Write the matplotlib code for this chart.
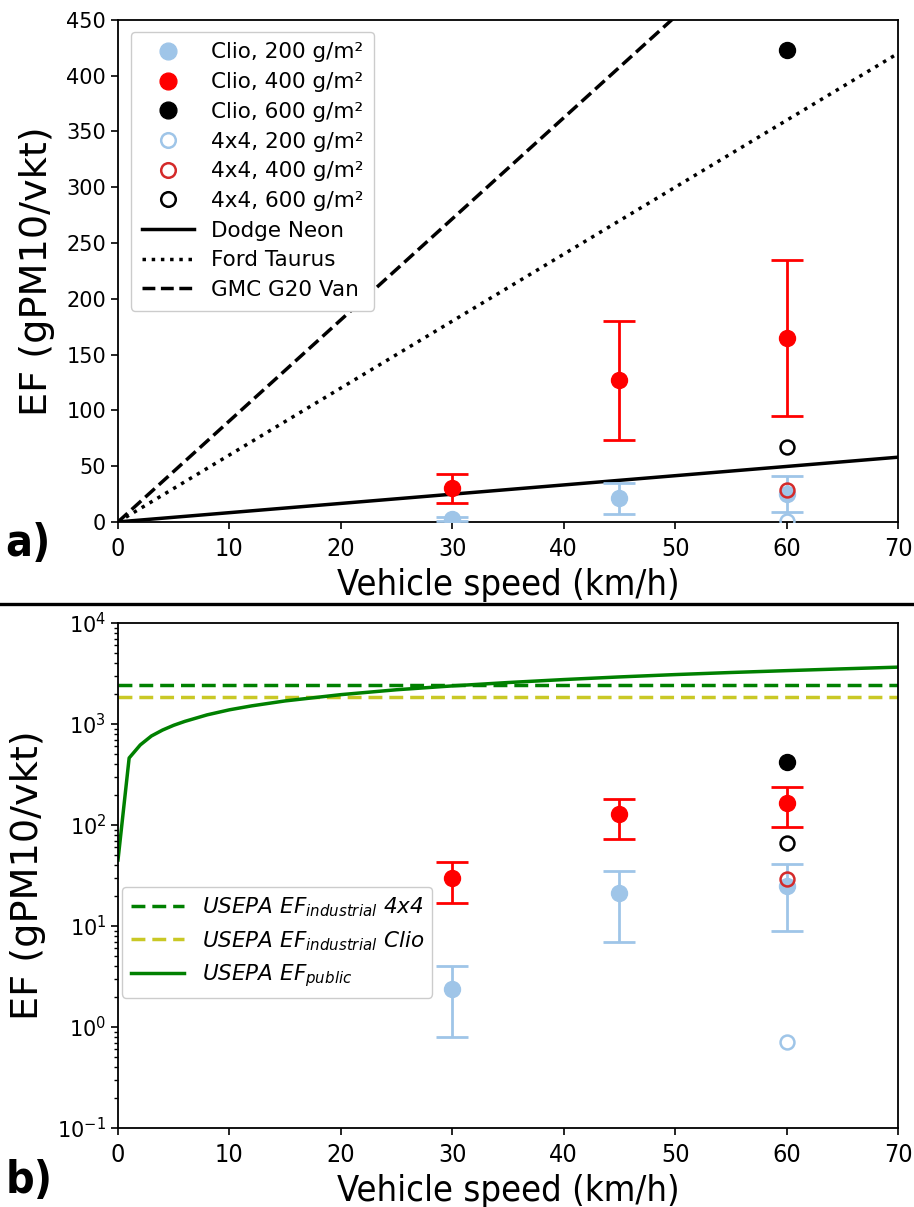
import matplotlib
matplotlib.use("Agg")
import matplotlib.pyplot as plt
from matplotlib.lines import Line2D
import numpy as np

# ---------------- data ----------------
speeds = [30, 45, 60]
clio200 = [2.4, 21, 25]
clio200_lo = [0.8, 7, 9]
clio200_hi = [4, 35, 41]
clio400 = [30, 127, 165]
clio400_lo = [17, 73, 95]
clio400_hi = [43, 180, 235]
clio600_x = [60]
clio600 = [423]
x4_x = [60]
x4_200 = [0.71]
x4_400 = [29]
x4_600 = [67]

line_speed = [0, 70]
dodge = [0, 58]
taurus = [0, 420]
gmc = [0, 634]

usepa_4x4 = 2450
usepa_clio = 1850
pub_speed = [0, 1, 2, 3, 4, 5, 6, 8, 10, 12, 15, 20, 25, 30, 35, 40, 45, 50, 55, 60, 65, 70]
pub_ef = [45, 460, 620, 760, 870, 970, 1060, 1230, 1380, 1510, 1690, 1950, 2180, 2380,
          2570, 2750, 2920, 3080, 3230, 3370, 3510, 3650]

xticks = [0, 10, 20, 30, 40, 50, 60, 70]
yticks_a = [0, 50, 100, 150, 200, 250, 300, 350, 400, 450]

# ---------------- style ----------------
LB = '#9fc5e8'
RED = '#ff0000'
RED_OPEN = '#d42a2a'
NARROW = ['Liberation Sans Narrow', 'DejaVu Sans']

plt.rcParams['font.family'] = ['DejaVu Sans']
plt.rcParams['axes.linewidth'] = 1.3

fig = plt.figure(figsize=(9.14, 12.07), dpi=100)
axA = fig.add_axes([0.1291, 0.5676, 0.8534, 0.4159])
axB = fig.add_axes([0.1291, 0.0655, 0.8534, 0.4184])

ms = 11.5
ms_open = 10
eb_kw = dict(fmt='none', elinewidth=2.0, capsize=11.5, capthick=2.0)


def err(v, lo, hi):
    return [np.array(v) - np.array(lo), np.array(hi) - np.array(v)]


def draw_points(ax):
    ax.errorbar(speeds, clio200, yerr=err(clio200, clio200_lo, clio200_hi), ecolor=LB, **eb_kw, zorder=3)
    ax.errorbar(speeds, clio400, yerr=err(clio400, clio400_lo, clio400_hi), ecolor=RED, **eb_kw, zorder=3)
    ax.plot(speeds, clio200, 'o', color=LB, ms=ms, zorder=4, label='Clio, 200 g/m²')
    ax.plot(speeds, clio400, 'o', color=RED, ms=ms, zorder=4, label='Clio, 400 g/m²')
    ax.plot(clio600_x, clio600, 'o', color='black', ms=ms, zorder=4, label='Clio, 600 g/m²')
    ax.plot(x4_x, x4_200, 'o', mfc='none', mec=LB, mew=1.8, ms=ms_open, zorder=5, label='4x4, 200 g/m²')
    ax.plot(x4_x, x4_400, 'o', mfc='none', mec=RED_OPEN, mew=1.8, ms=ms_open, zorder=5, label='4x4, 400 g/m²')
    ax.plot(x4_x, x4_600, 'o', mfc='none', mec='black', mew=1.8, ms=ms_open, zorder=5, label='4x4, 600 g/m²')


# ---------------- panel a ----------------
draw_points(axA)
axA.plot(line_speed, dodge, '-', color='black', lw=2.5, label='Dodge Neon', zorder=2)
axA.plot(line_speed, taurus, ':', color='black', lw=2.5, label='Ford Taurus', zorder=2)
axA.plot(line_speed, gmc, '--', color='black', lw=2.5, label='GMC G20 Van', zorder=2)
axA.set_xlim(0, 70)
axA.set_ylim(0, 450)
axA.set_xticks(xticks)
axA.set_yticks(yticks_a)
axA.tick_params(axis='y', labelsize=15, width=1.2, length=5)
axA.tick_params(axis='x', labelsize=18, width=1.2, length=5, pad=6)
for lab in axA.get_xticklabels():
    lab.set_family(NARROW)
    lab.set_fontstretch('condensed')
axA.set_ylabel('EF (gPM10/vkt)', fontsize=27.5, labelpad=8)
axA.set_xlabel('Vehicle speed (km/h)', fontsize=26, family=NARROW, fontstretch='condensed', labelpad=5)
legA = axA.legend(loc='upper left', fontsize=15.5, handlelength=2.4, labelspacing=0.45,
                  borderpad=0.5, handletextpad=0.8, framealpha=1.0, markerscale=1.05,
                  bbox_to_anchor=(0.003, 0.998))

# ---------------- panel b ----------------
draw_points(axB)
axB.axhline(usepa_4x4, color='green', ls='--', lw=2.5, dashes=(4, 2), label=r'USEPA $EF_{industrial}$ 4x4')
axB.axhline(usepa_clio, color='#c9c825', ls='--', lw=2.5, dashes=(4, 2), label=r'USEPA $EF_{industrial}$ Clio')
axB.plot(pub_speed, pub_ef, '-', color='green', lw=2.5, label=r'USEPA $EF_{public}$')
axB.set_yscale('log')
axB.set_xlim(0, 70)
axB.set_ylim(0.1, 1e4)
axB.set_xticks(xticks)
axB.tick_params(axis='y', which='major', labelsize=15, width=1.2, length=5)
axB.tick_params(axis='y', which='minor', width=1.0, length=3)
axB.tick_params(axis='x', labelsize=18, width=1.2, length=5, pad=6)
for lab in axB.get_xticklabels():
    lab.set_family(NARROW)
    lab.set_fontstretch('condensed')
axB.set_ylabel('EF (gPM10/vkt)', fontsize=27.5, labelpad=8)
axB.set_xlabel('Vehicle speed (km/h)', fontsize=26, family=NARROW, fontstretch='condensed', labelpad=5)
hB, lB = axB.get_legend_handles_labels()
keep = [i for i, l in enumerate(lB) if l.startswith('USEPA')]
legB = axB.legend([hB[i] for i in keep], [lB[i] for i in keep], loc='lower left',
                  bbox_to_anchor=(0.005, 0.258), borderaxespad=0,
                  prop={'style': 'italic', 'size': 15.5}, handlelength=2.5, framealpha=1.0,
                  labelspacing=0.45)

# panel labels & separator
fig.text(0.006, 0.55, 'a)', fontsize=32, fontweight='bold', family=NARROW,
         fontstretch='condensed', va='center', ha='left')
fig.text(0.006, 0.022, 'b)', fontsize=32, fontweight='bold', family=NARROW,
         fontstretch='condensed', va='center', ha='left')
fig.add_artist(Line2D([0, 1], [0.4996, 0.4996], transform=fig.transFigure, color='black', lw=2.4))

fig.savefig('out.png', dpi=100)
